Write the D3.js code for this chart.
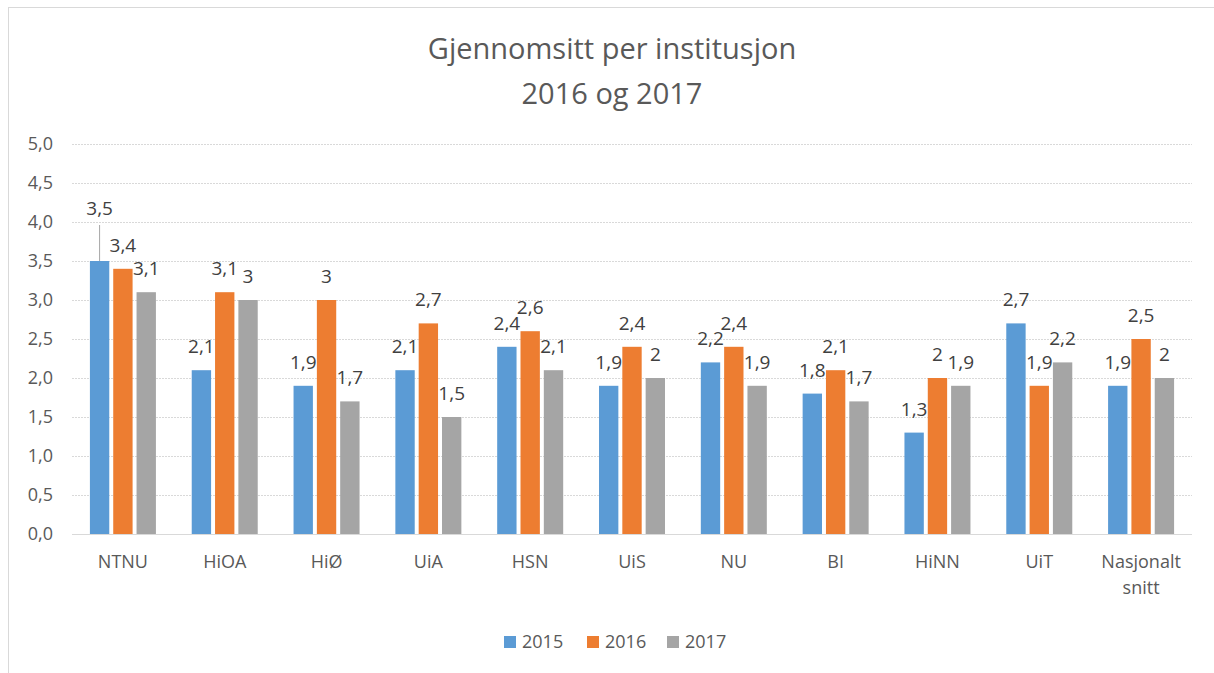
<!DOCTYPE html>
<html>
<head>
<meta charset="utf-8">
<script src="https://cdn.jsdelivr.net/npm/d3@7"></script>
<style>
  body { margin: 0; background: #fff; }
  text { font-family: "Open Sans", "Liberation Sans", sans-serif; }
</style>
</head>
<body>
<svg id="chart"></svg>
<script>
// Data
const categories = ["NTNU", "HiOA", "HiØ", "UiA", "HSN", "UiS", "NU", "BI", "HiNN", "UiT", "Nasjonalt snitt"];
const seriesNames = ["2015", "2016", "2017"];
const values2015 = [3.5, 2.1, 1.9, 2.1, 2.4, 1.9, 2.2, 1.8, 1.3, 2.7, 1.9];
const values2016 = [3.4, 3.1, 3.0, 2.7, 2.6, 2.4, 2.4, 2.1, 2.0, 1.9, 2.5];
const values2017 = [3.1, 3.0, 1.7, 1.5, 2.1, 2.0, 1.9, 1.7, 1.9, 2.2, 2.0];
const yTicks = [0, 0.5, 1, 1.5, 2, 2.5, 3, 3.5, 4, 4.5, 5];
const colors = ["#5B9BD5", "#ED7D31", "#A5A5A5"];

const W = 1214, H = 673;
const plot = { left: 72, right: 1192, top: 144, bottom: 534 };

const svg = d3.select("#chart").attr("width", W).attr("height", H);

// outer chart border (only top and left edge visible in the crop)
svg.append("rect")
  .attr("x", 8.5).attr("y", 7.5)
  .attr("width", W + 20).attr("height", H + 20)
  .attr("fill", "none")
  .attr("stroke", "#d9d9d9")
  .attr("stroke-width", 1);

// Title
const title = svg.append("text")
  .attr("text-anchor", "middle")
  .attr("fill", "#595959")
  .style("font-size", "29px");
title.append("tspan").attr("x", 612).attr("y", 59).text("Gjennomsitt per institusjon");
title.append("tspan").attr("x", 612).attr("y", 104).text("2016 og 2017");

const x0 = d3.scaleBand()
  .domain(categories)
  .range([plot.left, plot.right]);

const groupWidth = 66;
const x1 = d3.scaleBand()
  .domain(seriesNames)
  .range([0, groupWidth])
  .paddingInner(0.17);

const y = d3.scaleLinear().domain([0, 5]).range([plot.bottom, plot.top]);

const fmt = (v) => (Number.isInteger(v) ? String(v) : v.toFixed(1).replace(".", ","));

// Gridlines
svg.append("g")
  .selectAll("line")
  .data(yTicks)
  .join("line")
  .attr("x1", plot.left)
  .attr("x2", plot.right)
  .attr("y1", (d) => Math.round(y(d)) + 0.5)
  .attr("y2", (d) => Math.round(y(d)) + 0.5)
  .attr("stroke", "#d9d9d9")
  .attr("stroke-width", 1)
  .attr("stroke-dasharray", (d) => (d === 0 ? null : "2,1"));

// Y axis labels
const yAxis = svg.append("g")
  .attr("transform", `translate(${plot.left},0)`)
  .call(d3.axisLeft(y).tickValues(yTicks).tickSize(0).tickPadding(19)
    .tickFormat((d) => d.toFixed(1).replace(".", ",")));
yAxis.select(".domain").remove();
yAxis.selectAll("text")
  .attr("fill", "#595959")
  .style("font-size", "18px")
  .style("font-family", "'Open Sans', sans-serif");

// Bars
const seriesData = [values2015, values2016, values2017];
const groups = svg.append("g")
  .selectAll("g")
  .data(categories)
  .join("g")
  .attr("transform", (d) => `translate(${x0(d) + x0.bandwidth() / 2 - groupWidth / 2},0)`);

groups.each(function (cat, ci) {
  const g = d3.select(this);
  seriesNames.forEach((s, si) => {
    const v = seriesData[si][ci];
    g.append("rect")
      .attr("x", x1(s))
      .attr("y", y(v))
      .attr("width", x1.bandwidth())
      .attr("height", y(0) - y(v))
      .attr("fill", colors[si]);

    const cx = x1(s) + x1.bandwidth() / 2;
    // NTNU 2015 label was pushed up in the original, with a leader line
    const lifted = ci === 0 && si === 0;
    const lift = lifted ? 29 : 0;
    if (lifted) {
      g.append("line")
        .attr("x1", cx).attr("x2", cx)
        .attr("y1", y(v) - 36).attr("y2", y(v))
        .attr("stroke", "#a6a6a6")
        .attr("stroke-width", 1);
    }
    g.append("text")
      .attr("x", cx)
      .attr("y", y(v) - 17 - lift)
      .attr("text-anchor", "middle")
      .attr("fill", "#404040")
      .style("font-size", "19px")
      .text(fmt(v));
  });
});

// X axis labels
const xAxis = svg.append("g")
  .attr("transform", `translate(0,${plot.bottom})`)
  .call(d3.axisBottom(x0).tickSize(0).tickPadding(21));
xAxis.select(".domain").remove();
xAxis.selectAll("text")
  .attr("fill", "#595959")
  .style("font-size", "18px")
  .style("font-family", "'Open Sans', sans-serif")
  .each(function (d) {
    const parts = d.split(" ");
    if (parts.length > 1) {
      const t = d3.select(this).text(null);
      parts.forEach((p, i) => {
        t.append("tspan").attr("x", 0).attr("dy", i === 0 ? "0.71em" : "1.45em").text(p);
      });
      t.attr("dy", null);
    }
  });

// Legend
const legend = svg.append("g");
const legendX = [504, 587, 667];
seriesNames.forEach((s, i) => {
  legend.append("rect")
    .attr("x", legendX[i])
    .attr("y", 636)
    .attr("width", 12)
    .attr("height", 12)
    .attr("fill", colors[i]);
  legend.append("text")
    .attr("x", legendX[i] + 18)
    .attr("y", 648)
    .attr("fill", "#595959")
    .style("font-size", "18px")
    .text(s);
});
</script>
</body>
</html>
